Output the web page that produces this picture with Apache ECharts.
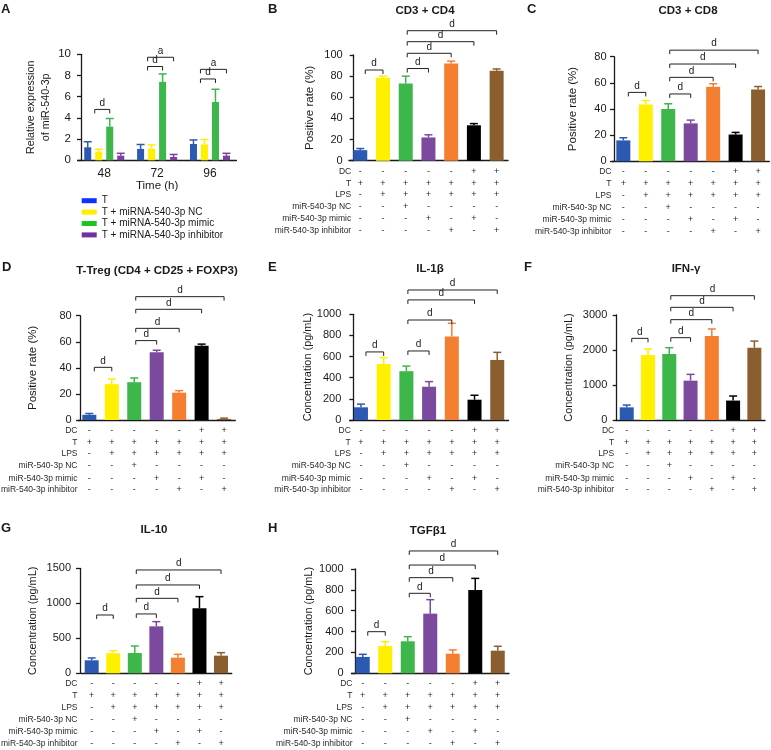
<!DOCTYPE html>
<html><head><meta charset="utf-8">
<script src="https://cdn.jsdelivr.net/npm/echarts@6/dist/echarts.min.js"></script>
<style>html,body{margin:0;padding:0;background:#fff}#c{width:771px;height:750px}</style>
</head><body><div id="c"></div>
<script>
// ================= DATA =================
// Panel A
const timeCategories = ['48', '72', '96'];
const aSeriesNames = ['T', 'T + miRNA-540-3p NC', 'T + miRNA-540-3p mimic', 'T + miRNA-540-3p inhibitor'];
const aT = [1.23, 1.07, 1.54];
const aTErr = [0.52, 0.42, 0.38];
const aNC = [0.82, 1.1, 1.5];
const aNCErr = [0.22, 0.35, 0.46];
const aMimic = [3.18, 7.4, 5.5];
const aMimicErr = [0.76, 0.75, 1.2];
const aInhib = [0.44, 0.31, 0.44];
const aInhibErr = [0.22, 0.24, 0.22];
// [timeIndex, fromGroup, toGroup, height, label]
const aBrackets = [[0, 0, 2, 4.8, 'd'], [1, 0, 2, 8.85, 'd'], [1, 0, 3, 9.72, 'a'], [2, 0, 2, 7.67, 'd'], [2, 0, 3, 8.58, 'a']];

// Panels B-H share groups and treatment table
const groupNames = ['T', 'T+LPS', 'T+LPS+NC', 'T+LPS+mimic', 'T+LPS+inhibitor', 'DC+T+LPS+mimic', 'DC+T+LPS+inhibitor'];
const tableRowLabels = ['DC', 'T', 'LPS', 'miR-540-3p NC', 'miR-540-3p mimic', 'miR-540-3p inhibitor'];
const tableDC = ['-', '-', '-', '-', '-', '+', '+'];
const tableT = ['+', '+', '+', '+', '+', '+', '+'];
const tableLPS = ['-', '+', '+', '+', '+', '+', '+'];
const tableNC = ['-', '-', '+', '-', '-', '-', '-'];
const tableMimic = ['-', '-', '-', '+', '-', '+', '-'];
const tableInhib = ['-', '-', '-', '-', '+', '-', '+'];

// B: CD3 + CD4
const cd4Values = [10, 78.5, 73, 22, 92, 33.5, 85];
const cd4Err = [1.5, 1.5, 7, 2.5, 2.2, 1.6, 1.8];
const cd4Brackets = [[0, 1, 85.8, 'd'], [2, 3, 87.2, 'd'], [2, 4, 101.6, 'd'], [2, 5, 112.6, 'd'], [2, 6, 123, 'd']];
// C: CD3 + CD8
const cd8Values = [16, 43.5, 40, 29, 57, 20.5, 55];
const cd8Err = [2, 3, 4, 2.5, 2.3, 1.6, 2.2];
const cd8Brackets = [[0, 1, 52.7, 'd'], [2, 3, 51.5, 'd'], [2, 4, 64.2, 'd'], [2, 5, 74.4, 'd'], [2, 6, 85, 'd']];
// D: T-Treg
const tregValues = [4, 27.5, 29, 52, 21, 57, 0.8];
const tregErr = [1, 4, 3.2, 1.5, 1.5, 1.2, 0.6];
const tregBrackets = [[0, 1, 40.4, 'd'], [2, 3, 60.9, 'd'], [2, 4, 70.3, 'd'], [2, 5, 84.9, 'd'], [2, 6, 94.6, 'd']];
// E: IL-1β
const il1bValues = [120, 530, 462, 315, 790, 192, 568];
const il1bErr = [30, 60, 48, 48, 125, 42, 72];
const il1bBrackets = [[0, 1, 644, 'd'], [2, 3, 653, 'd'], [2, 4, 946, 'd'], [2, 5, 1136, 'd'], [2, 6, 1230, 'd']];
// F: IFN-γ
const ifngValues = [362, 1857, 1886, 1124, 2400, 555, 2065];
const ifngErr = [65, 170, 180, 180, 200, 130, 190];
const ifngBrackets = [[0, 1, 2333, 'd'], [2, 3, 2352, 'd'], [2, 4, 2867, 'd'], [2, 5, 3219, 'd'], [2, 6, 3552, 'd']];
// G: IL-10
const il10Values = [186, 286, 290, 671, 224, 929, 252];
const il10Err = [33, 38, 100, 67, 47, 166, 43];
const il10Brackets = [[0, 1, 833, 'd'], [2, 3, 848, 'd'], [2, 4, 1071, 'd'], [2, 5, 1262, 'd'], [2, 6, 1476, 'd']];
// H: TGFβ1
const tgfValues = [157, 262, 307, 572, 188, 799, 217];
const tgfErr = [25, 41, 44, 134, 36, 111, 42];
const tgfBrackets = [[0, 1, 399, 'd'], [2, 3, 767, 'd'], [2, 4, 917, 'd'], [2, 5, 1038, 'd'], [2, 6, 1173, 'd']];

// ================= STYLE =================
const FONT = '"Liberation Sans", Arial, sans-serif';
const INK = '#1a1a1a';
const barColors = ['#2c59b2', '#fff000', '#3db64a', '#7b4a9e', '#f47f31', '#000000', '#8b5e2f'];
const aColors = ['#2c59b2', '#fff000', '#3db64a', '#7b3f9e'];
const aLegendColors = ['#0a33ff', '#ffee00', '#1fc41f', '#7030a0'];
const tableRows = [tableDC, tableT, tableLPS, tableNC, tableMimic, tableInhib];
const rowOffsets = [10.5, 22.5, 34, 46, 58.3, 70];
const AXW = 1.3;

const panels = [
  { grid: { left: 348.9, top: 55, width: 159.1, height: 105.7 }, yOffset: -4.8, max: 100, interval: 20,
    yName: 'Positive rate (%)', nameSize: 11.5, nameGap: 38, labelMargin: 11,
    values: cd4Values, errs: cd4Err, brackets: cd4Brackets, title: 'CD3 + CD4', tx: 425, ty: 11, letter: 'B', lx: 268, ly: 9 },
  { grid: { left: 612.1, top: 56.7, width: 157.2, height: 104.6 }, yOffset: -1.9, max: 80, interval: 20,
    yName: 'Positive rate (%)', nameSize: 11.5, nameGap: 35, labelMargin: 7.5,
    values: cd8Values, errs: cd8Err, brackets: cd8Brackets, title: 'CD3 + CD8', tx: 688, ty: 11, letter: 'C', lx: 527, ly: 9.5 },
  { grid: { left: 78.1, top: 315.7, width: 157.2, height: 104.3 }, yOffset: -1.9, max: 80, interval: 20,
    yName: 'Positive rate (%)', nameSize: 11.5, nameGap: 41.5, labelMargin: 8.3,
    values: tregValues, errs: tregErr, brackets: tregBrackets, title: 'T-Treg (CD4 + CD25 + FOXP3)', tx: 157, ty: 270.7, letter: 'D', lx: 2, ly: 267.5 },
  { grid: { left: 349.6, top: 314.3, width: 159.0, height: 105.7 }, yOffset: -3.7, max: 1000, interval: 200,
    yName: 'Concentration (pg/mL)', nameSize: 10.9, nameGap: 40.3, labelMargin: 12,
    values: il1bValues, errs: il1bErr, brackets: il1bBrackets, title: 'IL-1β', tx: 430, ty: 269, letter: 'E', lx: 268, ly: 267.5 },
  { grid: { left: 616.1, top: 315, width: 148.9, height: 105 }, yOffset: -0.6, max: 3000, interval: 1000,
    yName: 'Concentration (pg/mL)', nameSize: 10.9, nameGap: 42.7, labelMargin: 9.4,
    values: ifngValues, errs: ifngErr, brackets: ifngBrackets, title: 'IFN-γ', tx: 686, ty: 269, letter: 'F', lx: 524, ly: 267.5 },
  { grid: { left: 80.9, top: 568.3, width: 150.9, height: 105 }, yOffset: 0.9, max: 1500, interval: 500,
    yName: 'Concentration (pg/mL)', nameSize: 10.9, nameGap: 42, labelMargin: 9,
    values: il10Values, errs: il10Err, brackets: il10Brackets, title: 'IL-10', tx: 154, ty: 530, letter: 'G', lx: 1, ly: 528.5 },
  { grid: { left: 351.5, top: 569, width: 157.5, height: 104.3 }, yOffset: -3.5, max: 1000, interval: 200,
    yName: 'Concentration (pg/mL)', nameSize: 10.9, nameGap: 41, labelMargin: 11.5,
    values: tgfValues, errs: tgfErr, brackets: tgfBrackets, title: 'TGFβ1', tx: 428, ty: 530.7, letter: 'H', lx: 268, ly: 528.5 }
];

// ================= BUILD =================
const option = { animation: false, backgroundColor: '#fff', grid: [], xAxis: [], yAxis: [], series: [], graphic: [] };

function yAxisFor(gi, cfg) {
  return {
    gridIndex: gi, type: 'value', min: 0, max: cfg.max, interval: cfg.interval, offset: cfg.yOffset,
    name: cfg.yName, nameLocation: 'middle', nameGap: cfg.nameGap, nameRotate: 90, nameMoveOverlap: false,
    nameTextStyle: { fontFamily: FONT, fontSize: cfg.nameSize, color: INK, lineHeight: cfg.nameLineHeight || undefined },
    axisLine: { show: true, lineStyle: { color: INK, width: AXW } },
    axisTick: { show: true, length: 4, lineStyle: { color: INK, width: AXW } },
    axisLabel: { margin: cfg.labelMargin, fontFamily: FONT, fontSize: cfg.tickSize || 11, color: INK,
      formatter: function (v) { return String(v); } },
    splitLine: { show: false }
  };
}

function errorSeries(gi, values, errs, colors, offsetPx) {
  return {
    type: 'custom', xAxisIndex: gi, yAxisIndex: gi, z: 4, silent: true,
    data: values.map((v, i) => [i, v, v + errs[i]]),
    encode: { x: 0, y: [1, 2] },
    renderItem: function (params, api) {
      const pLow = api.coord([api.value(0), api.value(1)]);
      const pHigh = api.coord([api.value(0), api.value(2)]);
      const x = pLow[0] + offsetPx;
      const c = colors[params.dataIndex];
      return { type: 'group', children: [
        { type: 'line', shape: { x1: x, y1: pLow[1], x2: x, y2: pHigh[1] }, style: { stroke: c, lineWidth: 1.5 } },
        { type: 'line', shape: { x1: x - 4, y1: pHigh[1], x2: x + 4, y2: pHigh[1] }, style: { stroke: c, lineWidth: 1.5 } }
      ] };
    }
  };
}

function bracketShape(x1, x2, y, label) {
  return { type: 'group', children: [
    { type: 'polyline', shape: { points: [[x1, y + 4], [x1, y], [x2, y], [x2, y + 4]] }, style: { stroke: '#222', lineWidth: 1, fill: null } },
    { type: 'text', x: (x1 + x2) / 2, y: y - 1.5, style: { text: label, font: '10px ' + FONT, fill: INK, align: 'center', verticalAlign: 'bottom' } }
  ] };
}

// ---- Panel A ----
(function () {
  const gi = 0;
  const barW = 7, gap = 4;
  const offs = [-1.5, -0.5, 0.5, 1.5].map(k => k * (barW + gap));
  option.grid.push({ left: 77.8, top: 54.3, width: 158.6, height: 106, outerBoundsMode: 'none', containLabel: false });
  option.xAxis.push({
    gridIndex: gi, type: 'category', data: timeCategories,
    name: 'Time (h)', nameLocation: 'middle', nameGap: 20, nameMoveOverlap: false,
    nameTextStyle: { fontFamily: FONT, fontSize: 11.5, color: INK },
    axisLine: { lineStyle: { color: INK, width: AXW } },
    axisTick: { alignWithLabel: true, length: 4, lineStyle: { color: INK, width: AXW } },
    axisLabel: { margin: 7, fontFamily: FONT, fontSize: 12, color: INK }
  });
  option.yAxis.push(yAxisFor(gi, { max: 10, interval: 2, yOffset: -3.2, yName: 'Relative expression\nof miR-540-3p',
    nameSize: 10.7, nameLineHeight: 15, nameGap: 27, labelMargin: 10, tickSize: 11.5 }));
  const vals = [aT, aNC, aMimic, aInhib];
  const errs = [aTErr, aNCErr, aMimicErr, aInhibErr];
  vals.forEach((v, k) => {
    option.series.push({ type: 'bar', name: aSeriesNames[k], xAxisIndex: gi, yAxisIndex: gi, data: v,
      barWidth: barW, barGap: (gap / barW * 100) + '%', itemStyle: { color: aColors[k] }, z: 3 });
  });
  vals.forEach((v, k) => {
    option.series.push(errorSeries(gi, v, errs[k], timeCategories.map(() => aColors[k]), offs[k]));
  });
  option.series.push({
    type: 'custom', xAxisIndex: gi, yAxisIndex: gi, z: 5, silent: true,
    data: aBrackets.map(b => [b[0], b[3]]), encode: { x: 0, y: 1 },
    renderItem: function (params, api) {
      const b = aBrackets[params.dataIndex];
      const c = api.coord([api.value(0), api.value(1)]);
      return bracketShape(c[0] + offs[b[1]] + 7, c[0] + offs[b[2]], c[1], b[4]);
    }
  });
  option.graphic.push({ type: 'text', x: 1, y: 9, style: { text: 'A', font: 'bold 13px ' + FONT, fill: INK, align: 'left', verticalAlign: 'middle' } });
})();

option.legend = {
  orient: 'vertical', left: 81.7, top: 195.7, padding: 0, itemWidth: 15, itemHeight: 5, itemGap: 1.4,
  textStyle: { fontFamily: FONT, fontSize: 10, lineHeight: 10, color: INK },
  data: aSeriesNames.map((n, i) => ({ name: n, icon: 'rect', itemStyle: { color: aLegendColors[i] } }))
};

// ---- Panels B-H ----
panels.forEach((cfg, p) => {
  const gi = p + 1;
  option.grid.push(Object.assign({ outerBoundsMode: 'none', containLabel: false }, cfg.grid));
  option.xAxis.push({
    gridIndex: gi, type: 'category', data: groupNames,
    axisLine: { lineStyle: { color: INK, width: AXW } },
    axisTick: { alignWithLabel: true, length: 4, lineStyle: { color: INK, width: AXW } },
    axisLabel: { show: false }
  });
  option.yAxis.push(yAxisFor(gi, cfg));
  option.series.push({ type: 'bar', name: cfg.title, xAxisIndex: gi, yAxisIndex: gi, data: cfg.values, barWidth: 14,
    itemStyle: { color: params => barColors[params.dataIndex] }, z: 3 });
  option.series.push(errorSeries(gi, cfg.values, cfg.errs, barColors, 0));
  option.series.push({
    type: 'custom', xAxisIndex: gi, yAxisIndex: gi, z: 5, silent: true,
    data: cfg.brackets.map(b => [b[0], b[2]]), encode: { x: 0, y: 1 },
    renderItem: function (params, api) {
      const b = cfg.brackets[params.dataIndex];
      const pA = api.coord([b[0], b[2]]);
      const pB = api.coord([b[1], b[2]]);
      const inset = b[0] === 0 ? 5 : 1.5;
      return bracketShape(pA[0] + inset, pB[0], pA[1], b[3]);
    }
  });
  // treatment table under the x axis
  option.series.push({
    type: 'custom', xAxisIndex: gi, yAxisIndex: gi, z: 5, silent: true,
    data: groupNames.map((g, i) => [i, 0]), encode: { x: 0, y: 1 },
    renderItem: function (params, api) {
      const i = params.dataIndex;
      const base = api.coord([i, 0]);
      const children = tableRows.map((row, r) => ({ type: 'text', x: base[0], y: base[1] + rowOffsets[r],
        style: { text: row[i], font: '9px ' + FONT, fill: '#2a2a2a', align: 'center', verticalAlign: 'middle' } }));
      if (i === 0) {
        const axisX = params.coordSys.x - cfg.yOffset;
        tableRowLabels.forEach((lab, r) => children.push({ type: 'text', x: axisX - 2.5, y: base[1] + rowOffsets[r],
          style: { text: lab, font: '8.5px ' + FONT, fill: '#2a2a2a', align: 'right', verticalAlign: 'middle' } }));
      }
      return { type: 'group', children: children };
    }
  });
  option.graphic.push({ type: 'text', x: cfg.tx, y: cfg.ty, style: { text: cfg.title, font: 'bold 11.5px ' + FONT, fill: INK, align: 'center', verticalAlign: 'middle' } });
  option.graphic.push({ type: 'text', x: cfg.lx, y: cfg.ly, style: { text: cfg.letter, font: 'bold 13px ' + FONT, fill: INK, align: 'left', verticalAlign: 'middle' } });
});

const chart = echarts.init(document.getElementById('c'), null, { renderer: 'canvas' });
chart.setOption(option);
</script>
</body></html>
